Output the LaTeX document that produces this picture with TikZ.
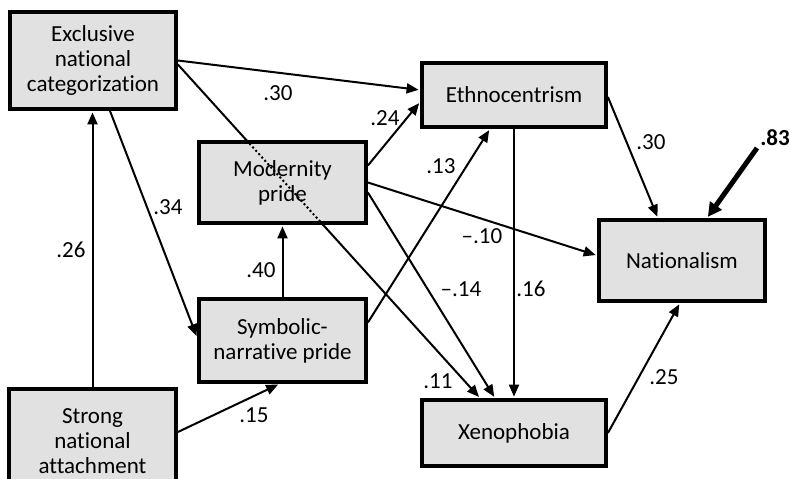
\documentclass[tikz,border=0pt]{standalone}
\usepackage{fontspec}
\setmainfont{Carlito}[Ligatures=NoCommon]
\usetikzlibrary{arrows.meta,calc,backgrounds}
\definecolor{boxgray}{RGB}{225,225,225}
\begin{document}
\begin{tikzpicture}[x=1pt,y=-1pt,
  box/.style={draw=black, line width=3.8pt, fill=boxgray, align=center, inner sep=0pt,
              font=\fontsize{23}{25}\selectfont},
  arr/.style={line width=2pt, shorten >=1.5pt, -{Triangle[length=12pt,width=10pt]}},
  bigarr/.style={line width=5pt, shorten >=1.5pt, -{Triangle[length=14pt,width=14pt]}},
  dotline/.style={line width=2pt, dash pattern=on 2pt off 2.5pt},
  lab/.style={inner sep=0pt, font=\fontsize{23}{25}\selectfont}]
\useasboundingbox (0,0) rectangle (790,479);
\clip (0,0) rectangle (790,479);

% boxes
\node[box, minimum width=166pt, minimum height=97pt] (excl) at (93,60.5) {Exclusive\\national\\categorization};
\node[box, minimum width=167pt, minimum height=81pt] (mod) at (282.5,182.5) {Modernity\\pride};
\node[box, minimum width=184pt, minimum height=64pt] (eth) at (514,95) {Ethnocentrism};
\node[box, minimum width=166pt, minimum height=81pt] (nat) at (682,260.5) {Nationalism};
\node[box, minimum width=167pt, minimum height=83pt] (sym) at (282.5,340.5) {Symbolic-\\narrative pride};
\node[box, minimum width=167pt, minimum height=108pt] (str) at (92.5,443)
  {\raisebox{10pt}{\begin{tabular}{@{}c@{}}Strong\\national\\attachment\end{tabular}}};
\node[box, minimum width=184pt, minimum height=66pt] (xeno) at (514,433) {Xenophobia};

\coordinate (xa) at ([yshift=-4pt]excl.east);
\coordinate (xb) at ([xshift=-34pt]xeno.north);
\coordinate (e83) at (757,148);

% connectors
\begin{scope}[on background layer]
\draw[arr] (excl.east) -- ([yshift=5pt]eth.west);
\draw[arr] (xa) -- (xb);
\draw[arr] ([xshift=17pt]excl.south) -- ([yshift=3pt]sym.west);
\draw[arr] (str.north) -- (str.north |- excl.south);
\draw[arr] ([yshift=11pt]str.east) -- ([xshift=-3pt]sym.south);
\draw[arr] (sym.north) -- (mod.south);
\draw[arr] ([yshift=17pt]mod.east) -- ([yshift=-7pt]eth.west);
\draw[arr] ([yshift=18pt]sym.east) -- ([xshift=-24pt]eth.south);
\draw[arr] (mod.east) -- ([yshift=5pt]nat.west);
\draw[arr] ([yshift=-10pt]mod.east) -- ([xshift=-19pt]xeno.north);
\draw[arr] (eth.south) -- (xeno.north);
\draw[arr] ([yshift=-2pt]eth.east) -- ([xshift=-24pt]nat.north);
\draw[arr] (xeno.east) -- ([xshift=-2pt]nat.south);
\draw[bigarr] (e83) -- ([xshift=25pt]nat.north);
\end{scope}

% dotted part of the path hidden behind Modernity pride
\draw[dotline] (intersection of xa--xb and mod.north west--mod.north east)
  -- (intersection of xa--xb and mod.south west--mod.south east);

% coefficients
\node[lab] (l30a) at (278,93) {.30};
\node[lab] (l24) at (385,118) {.24};
\node[lab] (l34) at (168,207) {.34};
\node[lab] (l26) at (71,250) {.26};
\node[lab] (l40) at (261,270) {.40};
\node[lab] (l15) at (254,415) {.15};
\node[lab] (l13) at (441,166) {.13};
\node[lab] (l10) at (482,236) {–.10};
\node[lab] (l14) at (461,289) {–.14};
\node[lab] (l16) at (531,289) {.16};
\node[lab] (l11) at (438,381) {.11};
\node[lab] (l30b) at (651,142) {.30};
\node[lab] (l25) at (664,377) {.25};
\node[lab, font=\fontsize{23}{25}\selectfont\bfseries] (l83) at (775,138) {.83};
\end{tikzpicture}
\end{document}
